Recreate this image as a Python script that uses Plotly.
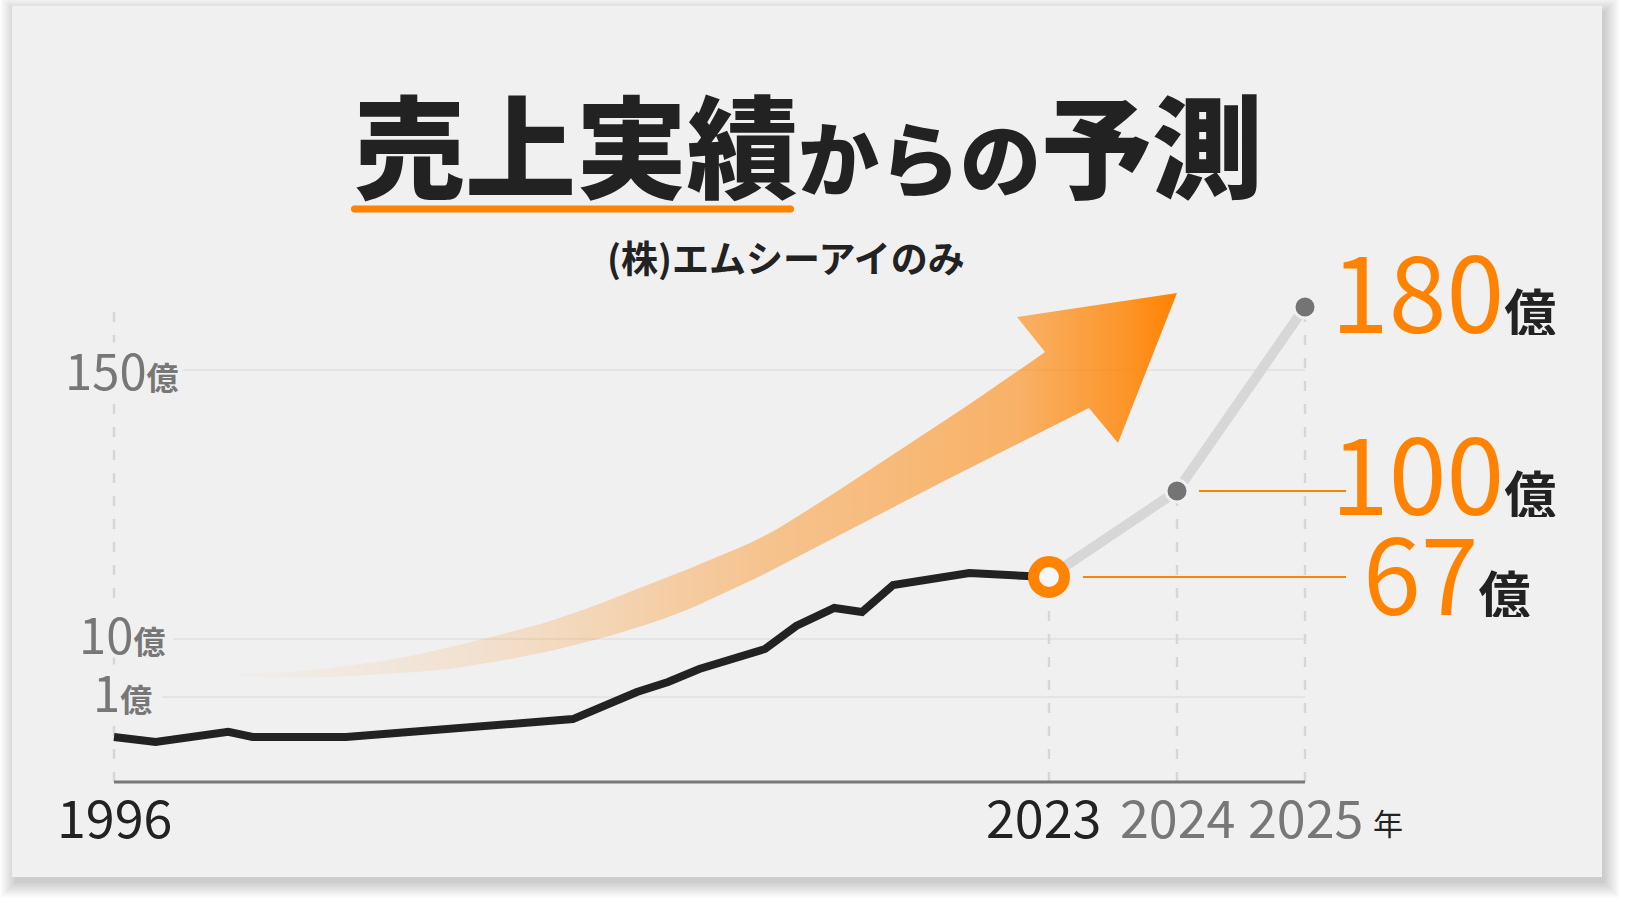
import numpy as np
import plotly.graph_objects as go

W, H = 1629, 909

# ---------------- data (sales in 億円) ----------------
hist_years = [1996.0, 1997.2, 1999.3, 2000.0, 2002.7, 2006.5, 2007.3, 2009.25, 2011.1,
              2012.0, 2012.9, 2014.8, 2015.7, 2016.8, 2017.6, 2018.5, 2020.7, 2023.0]
hist_sales = [0.53, 0.47, 0.59, 0.53, 0.53, 0.65, 0.66, 0.74, 1.78,
              3.33, 5.34, 8.45, 22.0, 38.5, 34.8, 59.6, 68.5, 67.0]
forecast_years = [2023, 2024, 2025]
forecast_sales = [67, 100, 180]
forecast_labels = ["67", "100", "180"]
y_ticks = [1, 10, 150]
y_tick_labels = ["1", "10", "150"]
x_tick_years = [1996, 2023, 2024, 2025]
x_tick_labels = ["1996", "2023", "2024", "2025"]

# ---------------- designer's (non-linear) scales ----------------
Y_VAL = [0, 1, 10, 67, 100, 150, 180]
Y_POS = [0, 85, 143, 205, 291, 412, 475]
X_VAL = [1996, 2023, 2024, 2025]
X_POS = [0, 935, 1063, 1191]


def ys(v):
    return np.interp(v, Y_VAL, Y_POS)


def xs(v):
    return np.interp(v, X_VAL, X_POS)


# pixel -> axis coordinates (used for decorations only)
X0P, Y0P = 114, 782


def px(x):
    return x - X0P


def py(y):
    return Y0P - y


ORANGE = "#ff8200"
BG = "#f0f0f0"
FONT = "Noto Sans CJK JP"

fig = go.Figure()
shapes = []

# card shadow + card
for i in range(10):
    e = i * 1.6
    shapes.append(dict(type="rect", layer="below", xref="x", yref="y",
                       x0=px(12 + 3 - e), x1=px(1602 + 3 + e), y0=py(6 + 5 - e), y1=py(877 + 6 + e),
                       fillcolor="rgba(0,0,0,0.02)", line=dict(width=0)))
shapes.append(dict(type="rect", layer="below", xref="x", yref="y",
                   x0=px(12), x1=px(1602), y0=py(6), y1=py(877),
                   fillcolor=BG, line=dict(width=0)))

# gridlines
grid_start = {1: 162, 10: 173, 150: 183}
for t in y_ticks:
    shapes.append(dict(type="line", layer="below", xref="x", yref="y",
                       x0=px(grid_start[t]), x1=xs(2025), y0=ys(t), y1=ys(t),
                       line=dict(color="#e1e1e1", width=1.5)))

# y dashed axis
DASH = "10px,13px"
shapes.append(dict(type="line", layer="below", xref="x", yref="y",
                   x0=xs(1996), x1=xs(1996), y0=0, y1=py(302),
                   line=dict(color="#d6d6d6", width=2.5, dash=DASH)))
# dashed verticals at forecast years
for yr, v in zip(forecast_years, forecast_sales):
    shapes.append(dict(type="line", layer="below", xref="x", yref="y",
                       x0=xs(yr), x1=xs(yr), y0=0, y1=ys(v),
                       line=dict(color="#d6d6d6", width=2.5, dash=DASH)))
# x axis line
shapes.append(dict(type="line", layer="below", xref="x", yref="y",
                   x0=xs(1996), x1=xs(2025), y0=0, y1=0,
                   line=dict(color="#787878", width=3)))

# orange leader lines
shapes.append(dict(type="line", xref="x", yref="y", layer="below",
                   x0=xs(2023) + 34, x1=px(1346), y0=ys(67), y1=ys(67),
                   line=dict(color=ORANGE, width=2.2)))
shapes.append(dict(type="line", xref="x", yref="y", layer="below",
                   x0=xs(2024) + 22, x1=px(1346), y0=ys(100), y1=ys(100),
                   line=dict(color=ORANGE, width=2.2)))

# title underline (rounded)
ux0, ux1, uy0, uy1 = 351, 794, 205.5, 212.5
r = (uy1 - uy0) / 2
shapes.append(dict(type="rect", xref="x", yref="y", x0=px(ux0 + r), x1=px(ux1 - r),
                   y0=py(uy1), y1=py(uy0), fillcolor=ORANGE, line=dict(width=0)))
for cx in (ux0 + r, ux1 - r):
    shapes.append(dict(type="circle", xref="x", yref="y", x0=px(cx - r), x1=px(cx + r),
                       y0=py(uy1), y1=py(uy0), fillcolor=ORANGE, line=dict(width=0)))

# ---------------- big arrow (decoration) ----------------


def smooth(pts, n=8):
    """Catmull-Rom densification of an outline (decorative geometry)."""
    p = np.array(pts, dtype=float)
    p = np.vstack([p[0], p, p[-1]])
    out = []
    for i in range(1, len(p) - 2):
        p0, p1, p2, p3 = p[i - 1], p[i], p[i + 1], p[i + 2]
        for t in np.linspace(0, 1, n, endpoint=False):
            t2, t3 = t * t, t * t * t
            out.append(0.5 * ((2 * p1) + (-p0 + p2) * t + (2 * p0 - 5 * p1 + 4 * p2 - p3) * t2
                              + (-p0 + 3 * p1 - 3 * p2 + p3) * t3))
    out.append(p[-2])
    return [tuple(q) for q in out]


upper = [(236, 674), (280, 672.5), (330, 668), (400, 658), (483, 639), (563, 617),
         (663, 579), (750, 543), (800, 515), (900, 450), (983, 395), (1045, 352)]
head = [(1017, 317), (1177, 293), (1118, 443), (1089, 408)]
lower = [(1089, 408), (1033, 436), (950, 478), (850, 530), (750, 581), (663, 619), (563, 648),
         (463, 667), (400, 673), (330, 677), (280, 677.5), (240, 676)]
poly = smooth(upper) + head + smooth(lower)[1:] + [upper[0]]
ax_ = [px(p[0]) for p in poly]
ay_ = [py(p[1]) for p in poly]


def oa(a):
    return f"rgba(255,130,0,{a})"


fig.add_trace(go.Scatter(
    x=ax_, y=ay_, mode="lines", fill="toself", line=dict(width=0),
    fillgradient=dict(type="horizontal",
                      colorscale=[[0.0, oa(0.02)], [0.10, oa(0.06)], [0.26, oa(0.14)],
                                  [0.35, oa(0.21)], [0.55, oa(0.40)], [0.71, oa(0.50)],
                                  [0.83, oa(0.57)], [0.95, oa(0.84)], [1.0, oa(1.0)]]),
    hoverinfo="skip", showlegend=False))

# ---------------- data traces ----------------
fig.add_trace(go.Scatter(
    x=xs(forecast_years), y=ys(forecast_sales), mode="lines",
    line=dict(color="#d7d7d7", width=10), hoverinfo="skip", showlegend=False))
fig.add_trace(go.Scatter(
    x=xs(hist_years), y=ys(hist_sales), mode="lines",
    line=dict(color="#222222", width=8), hoverinfo="skip", showlegend=False))
fig.add_trace(go.Scatter(
    x=xs(forecast_years[1:]), y=ys(forecast_sales[1:]), mode="markers",
    marker=dict(size=22, color="#747474", line=dict(color=BG, width=3)),
    hoverinfo="skip", showlegend=False))
fig.add_trace(go.Scatter(
    x=xs(forecast_years[:1]), y=ys(forecast_sales[:1]), mode="markers",
    marker=dict(size=31, color="#f6f6f6", line=dict(color=ORANGE, width=11)),
    hoverinfo="skip", showlegend=False))

annotations = []
# title
annotations.append(dict(
    xref="x", yref="y", x=px(808), y=py(141), xanchor="center", yanchor="middle",
    text="売上実績<span style='font-size:81px'>からの</span>予測",
    showarrow=False, font=dict(family=FONT, size=111, color="#222222", weight=900)))
annotations.append(dict(
    xref="x", yref="y", x=px(786), y=py(257), xanchor="center", yanchor="middle",
    text="(株)エムシーアイのみ", showarrow=False,
    font=dict(family=FONT, size=37, color="#222222", weight=700)))

# y tick labels
y_shift = {1: 7, 10: 7, 150: 2}
for t, lab in zip(y_ticks, y_tick_labels):
    annotations.append(dict(
        xref="x", yref="y", x=px(122), y=ys(t), xanchor="center", yanchor="middle",
        yshift=y_shift[t], height=50,
        text=f"{lab}<span style='font-size:32px'><b>億</b></span>", showarrow=False,
        bgcolor=BG, borderpad=0,
        font=dict(family=FONT, size=49, color="#777777")))

# x tick labels
x_colors = ["#222222", "#222222", "#777777", "#777777"]
x_shift = [0, -6, 0, 0]
for yr, lab, c, sh in zip(x_tick_years, x_tick_labels, x_colors, x_shift):
    annotations.append(dict(
        xref="x", yref="y", x=xs(yr), y=py(815), xanchor="center", yanchor="middle", xshift=sh,
        text=lab, showarrow=False, font=dict(family=FONT, size=52, color=c)))
annotations.append(dict(
    xref="x", yref="y", x=px(1388), y=py(822), xanchor="center", yanchor="middle",
    text="年", showarrow=False, font=dict(family=FONT, size=30, color="#222222")))

# forecast value labels
lab_left = {"67": 1361, "100": 1329, "180": 1329}
lab_dy = {"67": 8, "100": 22, "180": 20}
for lab, v in zip(forecast_labels, forecast_sales):
    annotations.append(dict(
        xref="x", yref="y", x=px(lab_left[lab]), y=ys(v) + lab_dy[lab],
        xanchor="left", yanchor="middle", height=96,
        text=f"{lab}<span style='font-size:52px;color:#222222'><b>億</b></span>",
        showarrow=False, font=dict(family=FONT, size=104, color=ORANGE)))

fig.update_layout(
    width=W, height=H, margin=dict(l=0, r=0, t=0, b=0),
    paper_bgcolor="white", plot_bgcolor="white",
    xaxis=dict(range=[px(0), px(W)], visible=False, fixedrange=True),
    yaxis=dict(range=[py(H), py(0)], visible=False, fixedrange=True),
    shapes=shapes, annotations=annotations, showlegend=False,
)

fig.write_html("out.html", config={"displayModeBar": False})
